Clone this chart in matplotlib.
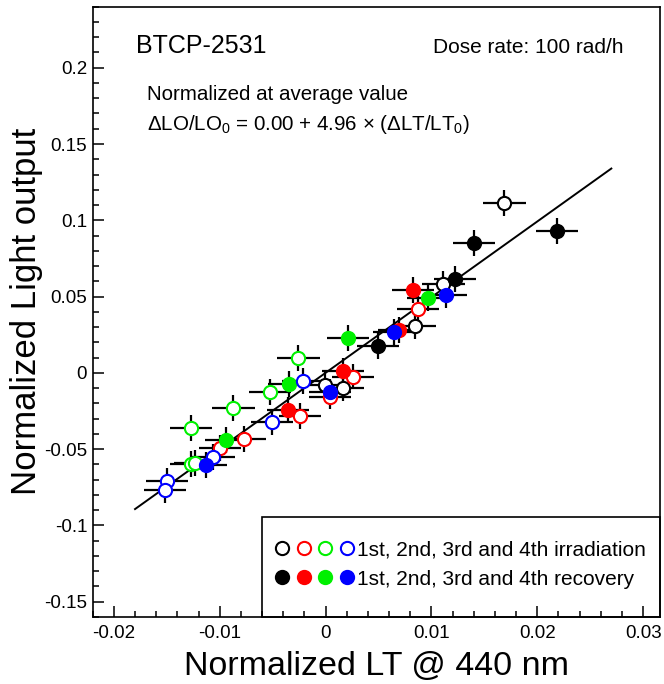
import matplotlib
matplotlib.use('Agg')
import matplotlib.pyplot as plt
from matplotlib.lines import Line2D
from matplotlib.patches import Rectangle
from matplotlib.legend_handler import HandlerTuple
from matplotlib.ticker import MultipleLocator, FuncFormatter

plt.rcParams['font.family'] = ['Liberation Sans', 'DejaVu Sans']
plt.rcParams['mathtext.fontset'] = 'custom'
plt.rcParams['mathtext.rm'] = 'Liberation Sans'
plt.rcParams['mathtext.it'] = 'Liberation Sans:italic'
plt.rcParams['axes.unicode_minus'] = False

# data (normalized LT, normalized LO)
irr1_x = [0.0169, 0.01114, 0.00846, 0.00163, -0.00005]
irr1_y = [0.1112, 0.0583, 0.0304, -0.0100, -0.0082]
rec1_x = [0.01404, 0.02185, 0.01224, 0.00493]
rec1_y = [0.0854, 0.0931, 0.0614, 0.0179]
irr2_x = [0.00871, 0.00257, 0.00043, -0.00241, -0.00767, -0.00997]
irr2_y = [0.0420, -0.0024, -0.0155, -0.0281, -0.0432, -0.0493]
rec2_x = [0.00824, 0.00698, 0.00163, -0.00357]
rec2_y = [0.0544, 0.0282, 0.0014, -0.0246]
irr3_x = [-0.00257, -0.00525, -0.00871, -0.01274, -0.01274, -0.0123]
irr3_y = [0.0097, -0.0126, -0.0231, -0.0362, -0.0597, -0.0590]
rec3_x = [0.00972, 0.00210, -0.00345, -0.00943]
rec3_y = [0.0490, 0.0228, -0.0073, -0.0438]
irr4_x = [-0.0021, -0.00509, -0.0106, -0.01495, -0.01517]
irr4_y = [-0.0052, -0.0325, -0.0551, -0.0711, -0.0770]
rec4_x = [0.01139, 0.00647, 0.00043, -0.0113]
rec4_y = [0.0513, 0.0265, -0.0128, -0.0606]

x_err = 0.002
y_err = 0.0085

fit_a = 0.00
fit_b = 4.96
fit_range = [-0.018, 0.027]

colors = ['black', '#ff0000', '#00f000', '#0000ff']

fig = plt.figure(figsize=(6.64, 6.84), dpi=100)
ax = fig.add_axes([0.1396, 0.098, 0.8544, 0.8922])

series = [(irr1_x, irr1_y, rec1_x, rec1_y), (irr2_x, irr2_y, rec2_x, rec2_y),
          (irr3_x, irr3_y, rec3_x, rec3_y), (irr4_x, irr4_y, rec4_x, rec4_y)]
for c, (ix, iy, rx, ry) in zip(colors, series):
    ax.errorbar(ix, iy, xerr=x_err, yerr=y_err, fmt='o', ms=9.5, mfc='white',
                mec=c, mew=1.5, ecolor='black', elinewidth=1.6, capsize=0)
    ax.errorbar(rx, ry, xerr=x_err, yerr=y_err, fmt='o', ms=9.5, mfc=c,
                mec=c, mew=1.5, ecolor='black', elinewidth=1.6, capsize=0)

ax.plot(fit_range, [fit_a + fit_b * v for v in fit_range], color='black', lw=1.4)

ax.set_xlim(-0.022, 0.0316)
ax.set_ylim(-0.16, 0.24)
ax.xaxis.set_major_locator(MultipleLocator(0.01))
ax.xaxis.set_minor_locator(MultipleLocator(0.002))
ax.yaxis.set_major_locator(MultipleLocator(0.05))
ax.yaxis.set_minor_locator(MultipleLocator(0.01))
fmt = FuncFormatter(lambda v, p: '0' if abs(v) < 1e-9 else '%g' % v)
ax.xaxis.set_major_formatter(fmt)
ax.yaxis.set_major_formatter(fmt)
ax.tick_params(which='both', direction='in', top=False, right=False,
               labelsize=13.5, width=1.1)
ax.tick_params(axis='x', which='major', length=8, pad=6)
ax.tick_params(axis='y', which='major', length=8, pad=4)
ax.tick_params(which='minor', length=4.5)
for s in ax.spines.values():
    s.set_linewidth(1.2)

ax.set_xlabel('Normalized LT @ 440 nm', fontsize=24.5, labelpad=6)
ax.set_ylabel('Normalized Light output', fontsize=25, labelpad=1)

ax.text(0.0763, 0.924, 'BTCP-2531', transform=ax.transAxes, fontsize=18,
        va='baseline')
ax.text(0.599, 0.924, 'Dose rate: 100 rad/h', transform=ax.transAxes,
        fontsize=15, va='baseline')
ax.text(0.0959, 0.847, 'Normalized at average value', transform=ax.transAxes,
        fontsize=14.8, va='baseline')
ax.text(0.0959, 0.798, 'ΔLO/LO$_0$ = 0.00 + 4.96 × (ΔLT/LT$_0$)',
        transform=ax.transAxes, fontsize=14.8, va='baseline')

# legend box
ax.add_patch(Rectangle((0.2984, 0), 0.7016, 0.1639, transform=ax.transAxes,
                       fill=False, lw=1.2, ec='black', clip_on=False))
open_h = tuple(Line2D([], [], marker='o', ls='', ms=9.5, mfc='white', mec=c, mew=1.5)
               for c in colors)
fill_h = tuple(Line2D([], [], marker='o', ls='', ms=9.5, mfc=c, mec=c, mew=1.5)
               for c in colors)
ax.legend([open_h, fill_h],
          ['1st, 2nd, 3rd and 4th irradiation', '1st, 2nd, 3rd and 4th recovery'],
          handler_map={tuple: HandlerTuple(ndivide=None, pad=0.4)},
          loc='center left', bbox_to_anchor=(0.2984, 0.086), borderaxespad=0,
          borderpad=0.67, frameon=False, fontsize=15, handlelength=3.7,
          handletextpad=0.2, labelspacing=0.5)

fig.savefig('out.png', dpi=100)
